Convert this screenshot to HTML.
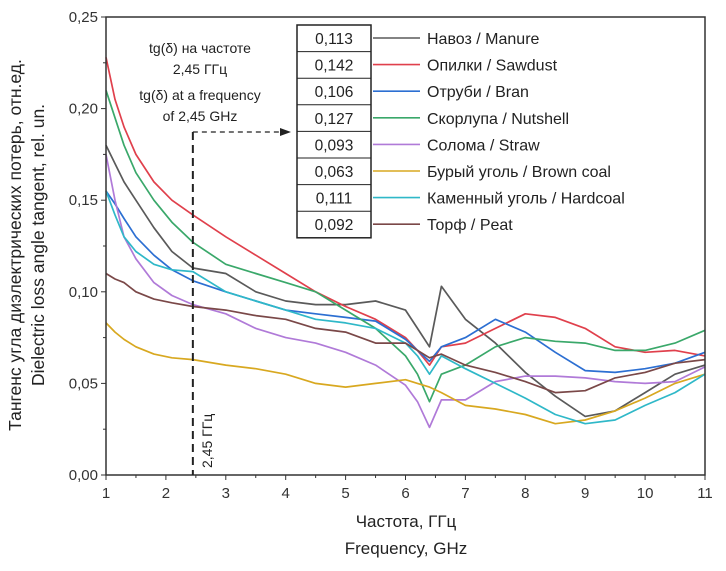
<!DOCTYPE html>
<html><head><meta charset="utf-8"><style>
html,body{margin:0;padding:0;background:#fff;}
svg{display:block;font-family:"Liberation Sans",sans-serif;}
</style></head><body>
<svg id="chart" width="726" height="571" viewBox="0 0 726 571"></svg>
<script>
const freqs=[1,1.15,1.3,1.5,1.8,2.1,2.45,3,3.5,4,4.5,5,5.5,6,6.2,6.4,6.6,7,7.5,8,8.5,9,9.5,10,10.5,11];
const manure=[0.18,0.17,0.16,0.15,0.135,0.122,0.113,0.11,0.1,0.095,0.093,0.093,0.095,0.09,0.08,0.07,0.103,0.085,0.072,0.056,0.043,0.032,0.035,0.045,0.055,0.06];
const sawdust=[0.228,0.205,0.19,0.175,0.16,0.15,0.142,0.13,0.12,0.11,0.1,0.092,0.085,0.075,0.068,0.06,0.07,0.072,0.08,0.088,0.086,0.08,0.07,0.067,0.068,0.065];
const bran=[0.155,0.148,0.14,0.13,0.12,0.112,0.106,0.1,0.095,0.09,0.088,0.086,0.084,0.074,0.068,0.062,0.07,0.075,0.085,0.078,0.067,0.057,0.056,0.058,0.061,0.067];
const nutshell=[0.21,0.195,0.18,0.165,0.15,0.138,0.127,0.115,0.11,0.105,0.1,0.09,0.08,0.065,0.055,0.04,0.055,0.06,0.07,0.075,0.073,0.072,0.068,0.068,0.072,0.079];
const straw=[0.175,0.15,0.13,0.118,0.105,0.098,0.093,0.088,0.08,0.075,0.072,0.067,0.06,0.049,0.04,0.026,0.041,0.041,0.051,0.054,0.054,0.053,0.051,0.05,0.051,0.059];
const browncoal=[0.083,0.078,0.074,0.07,0.066,0.064,0.063,0.06,0.058,0.055,0.05,0.048,0.05,0.052,0.05,0.048,0.045,0.038,0.036,0.033,0.028,0.03,0.035,0.042,0.05,0.055];
const hardcoal=[0.155,0.142,0.13,0.122,0.115,0.112,0.111,0.1,0.095,0.09,0.085,0.083,0.08,0.072,0.065,0.055,0.065,0.058,0.05,0.042,0.033,0.028,0.03,0.038,0.045,0.055];
const peat=[0.11,0.107,0.105,0.1,0.096,0.094,0.092,0.09,0.087,0.085,0.08,0.078,0.072,0.072,0.068,0.064,0.066,0.06,0.056,0.051,0.045,0.046,0.053,0.056,0.061,0.063];
const seriesNames=["Навоз / Manure","Опилки / Sawdust","Отруби / Bran","Скорлупа / Nutshell","Солома / Straw","Бурый уголь / Brown coal","Каменный уголь / Hardcoal","Торф / Peat"];
const tableValues=["0,113","0,142","0,106","0,127","0,093","0,063","0,111","0,092"];
const yTicks=[0,0.05,0.1,0.15,0.2,0.25];
const yTickLabels=["0,00","0,05","0,10","0,15","0,20","0,25"];
const xTicks=[1,2,3,4,5,6,7,8,9,10,11];
const series=[manure,sawdust,bran,nutshell,straw,browncoal,hardcoal,peat];
const colors=["#5a5a5a","#e0404c","#2c6fd2","#3aa86a","#b07ad8","#d8a820","#2fb8c8","#7a4848"];
const keys=["manure","sawdust","bran","nutshell","straw","brown-coal","hardcoal","peat"];
const L=106,R=705,T=17,B=475;
const xs=f=>L+(f-1)/10*(R-L);
const ys=v=>B-v/0.25*(B-T);
const svg=document.getElementById('chart');
const NS="http://www.w3.org/2000/svg";
function mk(tag,attrs,parent){const e=document.createElementNS(NS,tag);for(const k in attrs)e.setAttribute(k,attrs[k]);(parent||svg).appendChild(e);return e;}
series.forEach((s,i)=>{
  const p=mk('polyline',{points:s.map((v,j)=>xs(freqs[j]).toFixed(1)+','+ys(v).toFixed(1)).join(' '),fill:'none',stroke:colors[i],'stroke-width':1.7,'stroke-linejoin':'round'});
  
  
});
const fr=mk('rect',{x:L,y:T,width:R-L,height:B-T,fill:'none',stroke:'#333','stroke-width':1.5});


yTicks.forEach((t,i)=>{
  mk('line',{x1:L-5,x2:L,y1:ys(t),y2:ys(t),stroke:'#333'});
  if(i<yTicks.length-1) mk('line',{x1:L-3,x2:L,y1:ys(t+0.025),y2:ys(t+0.025),stroke:'#333'});
  const tx=mk('text',{x:L-8,y:ys(t)+5,'text-anchor':'end','font-size':15,fill:'#333'});
  tx.textContent=yTickLabels[i];
  
  
});
xTicks.forEach((t,i)=>{
  mk('line',{x1:xs(t),x2:xs(t),y1:B,y2:B+5,stroke:'#333'});
  if(i<xTicks.length-1) mk('line',{x1:xs(t+0.5),x2:xs(t+0.5),y1:B,y2:B+3,stroke:'#333'});
  const tx=mk('text',{x:xs(t),y:B+23,'text-anchor':'middle','font-size':15,fill:'#333'});
  tx.textContent=String(t);
  
  
});
const x245=xs(2.45);
mk('line',{x1:x245,x2:x245,y1:132,y2:B,stroke:'#222','stroke-width':2,'stroke-dasharray':'8,5'});
mk('line',{x1:x245,x2:280,y1:132,y2:132,stroke:'#222','stroke-width':1.3,'stroke-dasharray':'5,4'});
mk('polygon',{points:'291,132 280,128 280,136',fill:'#222'});
const tb=mk('g',{});


const rowH=26.6,ty0=25;
mk('rect',{x:297,y:ty0,width:74,height:rowH*8,fill:'#fff',stroke:'#222','stroke-width':1.5},tb);
seriesNames.forEach((n,i)=>{
  const y=ty0+rowH*i;
  if(i>0) mk('line',{x1:297,x2:371,y1:y,y2:y,stroke:'#222'},tb);
  const v=mk('text',{x:334,y:y+19,'text-anchor':'middle','font-size':15.5,fill:'#222'},tb);
  v.textContent=tableValues[i];
  
  
  const g=mk('g',{},tb);
  
  
  mk('line',{x1:373,x2:420,y1:y+13,y2:y+13,stroke:colors[i],'stroke-width':1.6},g);
  const t=mk('text',{x:427,y:y+19,'font-size':16,fill:'#222'},g);
  t.textContent=n;
});
</script>
<div style="position:absolute;left:0;top:0;width:726px;height:571px;pointer-events:none;">
<svg width="726" height="571" style="position:absolute;left:0;top:0;font-family:'Liberation Sans',sans-serif;">
<g font-size="14" fill="#222" text-anchor="middle">
<text x="200" y="53">tg(δ) на частоте</text>
<text x="200" y="74">2,45 ГГц</text>
<text x="200" y="100">tg(δ) at a frequency</text>
<text x="200" y="121">of 2,45 GHz</text>
</g>
<text x="0" y="0" font-size="14" fill="#222" transform="translate(212,468) rotate(-90)">2,45 ГГц</text>
<g font-size="17.5" fill="#222" text-anchor="middle">
<text transform="translate(21,245) rotate(-90)">Тангенс угла диэлектрических потерь, отн.ед.</text>
<text transform="translate(44,245) rotate(-90)">Dielectric loss angle tangent, rel. un.</text>
</g>
<g font-size="17" fill="#222" text-anchor="middle">
<text x="406" y="527">Частота, ГГц</text>
<text x="406" y="554">Frequency, GHz</text>
</g>
</svg>
</div>
</body></html>
